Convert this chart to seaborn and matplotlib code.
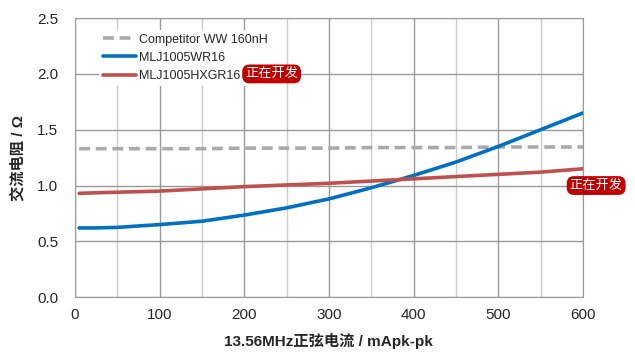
import pandas as pd
import matplotlib.pyplot as plt
import seaborn as sns
from matplotlib.ticker import MultipleLocator

# data
current = [5, 25, 50, 100, 150, 200, 250, 300, 350, 400, 450, 500, 550, 600]
competitor = [1.33, 1.33, 1.33, 1.33, 1.33, 1.335, 1.335, 1.335, 1.34, 1.34, 1.34, 1.345, 1.345, 1.345]
wr16 = [0.62, 0.62, 0.625, 0.65, 0.68, 0.735, 0.80, 0.88, 0.98, 1.09, 1.21, 1.35, 1.50, 1.65]
hxgr16 = [0.93, 0.935, 0.94, 0.95, 0.97, 0.99, 1.005, 1.02, 1.04, 1.06, 1.08, 1.10, 1.12, 1.15]
names = ["Competitor WW 160nH", "MLJ1005WR16", "MLJ1005HXGR16"]

df = pd.DataFrame({"current": current * 3,
                   "R": competitor + wr16 + hxgr16,
                   "part": [n for n in names for _ in current]})

sns.set_style("white")
plt.rcParams['font.family'] = ['Liberation Sans', 'Noto Sans CJK SC', 'DejaVu Sans']

fig = plt.figure(figsize=(6.35, 3.55), dpi=100)
ax = fig.add_axes([0.118, 0.163, 0.800, 0.786])

palette = {names[0]: "#aaaaaa", names[1]: "#0070c0", names[2]: "#c0504d"}
sns.lineplot(data=df, x="current", y="R", hue="part", style="part",
             dashes={names[0]: (3, 1.6), names[1]: "", names[2]: ""},
             palette=palette, linewidth=2.6, ax=ax, legend=True)

ax.set_xlim(0, 600)
ax.set_ylim(0, 2.5)
ax.xaxis.set_major_locator(MultipleLocator(100))
ax.xaxis.set_minor_locator(MultipleLocator(50))
ax.yaxis.set_major_locator(MultipleLocator(0.5))
ax.yaxis.set_major_formatter(plt.FormatStrFormatter('%.1f'))
ax.grid(which='major', color='#999999', linewidth=1)
ax.grid(which='minor', axis='x', color='#cccccc', linewidth=1)
ax.set_axisbelow(True)
for s in ax.spines.values():
    s.set_color('#999999')
ax.tick_params(axis='y', which='major', length=6, color='#999999', labelsize=11, pad=6)
ax.tick_params(axis='x', which='both', length=0, labelsize=11, pad=8)

ax.set_xlabel("13.56MHz正弦电流 / mApk-pk", fontsize=11, fontweight='bold', labelpad=8)
ax.set_ylabel("交流电阻 / Ω", fontsize=11, fontweight='bold', labelpad=8)

# legend sits on a white patch that hides the grid behind it
leg = ax.legend(loc='upper left', bbox_to_anchor=(0.047, 0.958), frameon=True,
                facecolor='white', edgecolor='none', framealpha=1, fancybox=False,
                fontsize=9, handlelength=2.7, handletextpad=0.2, labelspacing=0.5,
                borderpad=0.3, borderaxespad=0)
for h in leg.get_lines():
    h.set_linewidth(2.6)

badge = dict(boxstyle='round,pad=0.22,rounding_size=0.55', fc='#c00000', ec='none')
ax.text(0.335, 0.80, "正在开发", transform=ax.transAxes, color='white', fontsize=9.5,
        fontfamily=['Noto Sans CJK SC'], va='center', ha='left', bbox=badge, zorder=6)
ax.text(1.026, 0.40, "正在开发", transform=ax.transAxes, color='white', fontsize=9.5,
        fontfamily=['Noto Sans CJK SC'], va='center', ha='center', bbox=badge,
        clip_on=False, zorder=6)

fig.savefig("out.png", dpi=100)
